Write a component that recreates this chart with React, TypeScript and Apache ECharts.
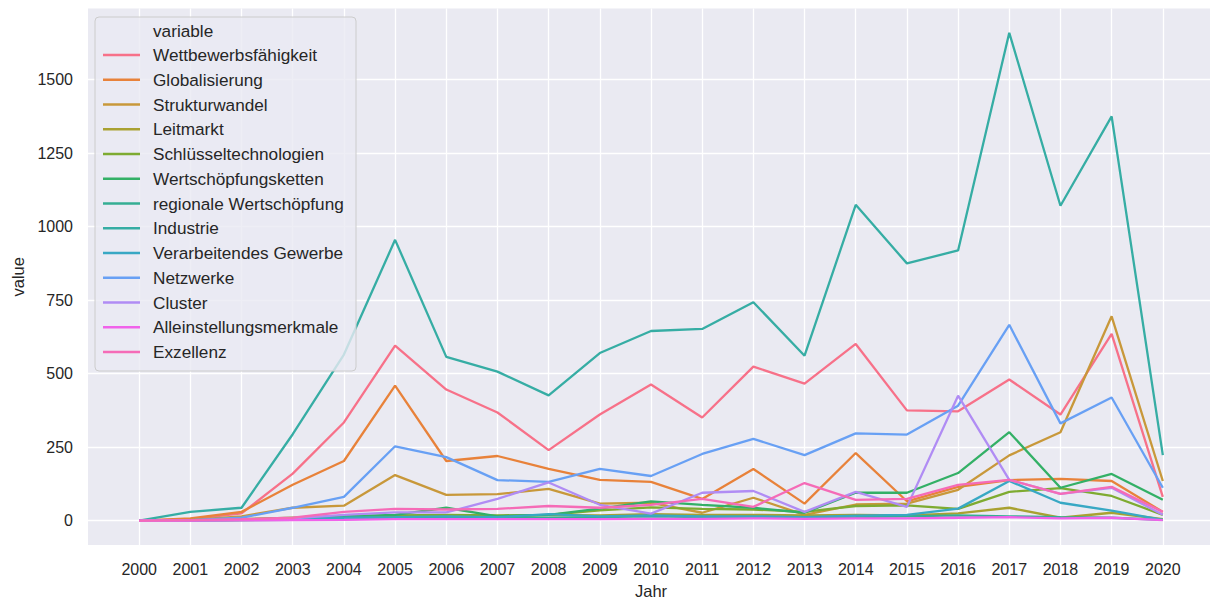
import React, { useEffect, useRef } from "react";
import * as echarts from "echarts";

const years = [2000, 2001, 2002, 2003, 2004, 2005, 2006, 2007, 2008, 2009, 2010, 2011, 2012, 2013, 2014, 2015, 2016, 2017, 2018, 2019, 2020];
const yTicks = [0, 250, 500, 750, 1000, 1250, 1500];

const seriesNames = [
  "Wettbewerbsfähigkeit",
  "Globalisierung",
  "Strukturwandel",
  "Leitmarkt",
  "Schlüsseltechnologien",
  "Wertschöpfungsketten",
  "regionale Wertschöpfung",
  "Industrie",
  "Verarbeitendes Gewerbe",
  "Netzwerke",
  "Cluster",
  "Alleinstellungsmerkmale",
  "Exzellenz",
];

const colors = [
  "#f77189", "#e8823a", "#c8983a", "#a9a131", "#7eab31", "#33b066", "#35ae93",
  "#36ada4", "#38a8c4", "#68a0f4", "#b08cf4", "#f062ea", "#f56bb7",
];

const wettbewerb = [0, 5, 25, 160, 334, 595, 446, 368, 240, 361, 463, 351, 524, 466, 601, 375, 372, 480, 361, 635, 81];
const globalisierung = [0, 8, 30, 122, 203, 459, 203, 220, 176, 139, 132, 74, 176, 58, 230, 66, 115, 138, 142, 135, 30];
const strukturwandel = [0, 3, 15, 44, 51, 155, 88, 90, 108, 58, 61, 27, 78, 20, 55, 58, 105, 222, 301, 695, 135];
const leitmarkt = [0, 2, 5, 8, 12, 15, 18, 15, 20, 18, 22, 20, 20, 18, 20, 18, 25, 44, 10, 27, 5];
const schluessel = [0, 2, 5, 10, 15, 18, 20, 18, 20, 35, 45, 40, 38, 30, 50, 52, 40, 98, 111, 84, 20];
const wsKetten = [0, 0, 2, 5, 15, 20, 44, 15, 20, 41, 66, 54, 44, 27, 95, 95, 162, 301, 112, 159, 71];
const regionaleWS = [0, 1, 2, 3, 5, 8, 10, 8, 10, 12, 15, 12, 10, 10, 12, 15, 18, 15, 12, 10, 3];
const industrie = [0, 30, 44, 294, 565, 955, 557, 507, 426, 570, 645, 652, 743, 561, 1074, 875, 919, 1659, 1071, 1375, 223];
const verarbeitend = [0, 1, 3, 5, 10, 12, 15, 12, 22, 15, 18, 15, 15, 12, 17, 20, 41, 135, 61, 34, 3];
const netzwerke = [0, 2, 10, 44, 81, 253, 216, 138, 132, 176, 152, 227, 278, 223, 297, 293, 391, 666, 331, 419, 112];
const cluster = [0, 1, 3, 8, 20, 28, 28, 74, 130, 54, 24, 95, 101, 30, 98, 47, 425, 139, 91, 112, 20];
const alleinstellung = [0, 0, 1, 2, 3, 5, 5, 5, 5, 5, 6, 6, 8, 6, 8, 8, 10, 12, 8, 10, 2];
const exzellenz = [0, 2, 5, 10, 30, 40, 38, 40, 50, 44, 54, 74, 47, 128, 71, 74, 122, 139, 91, 115, 30];

const seriesValues = [
  wettbewerb, globalisierung, strukturwandel, leitmarkt, schluessel, wsKetten,
  regionaleWS, industrie, verarbeitend, netzwerke, cluster, alleinstellung, exzellenz,
];

const FONT = "'Liberation Sans', Arial, sans-serif";
const TEXT = "#262626";

export default function App() {
  const ref = useRef<HTMLDivElement>(null);

  useEffect(() => {
    if (!ref.current) return;
    const chart = echarts.init(ref.current, undefined, { renderer: "svg" });
    const series = seriesNames.map((name, i) => ({
      name,
      type: "line",
      data: years.map((y, j) => [y, seriesValues[i][j]]),
      showSymbol: false,
      symbol: "none",
      lineStyle: { width: 2.3, color: colors[i] },
      itemStyle: { color: colors[i] },
      z: 2,
    }));
    chart.setOption({
      animation: false,
      backgroundColor: "#ffffff",
      textStyle: { fontFamily: FONT },
      grid: { left: 88, right: 0, top: 8.4, bottom: 55.4, show: true, backgroundColor: "#eaeaf2", borderWidth: 0 },
      xAxis: {
        type: "value",
        min: 1999,
        max: 2021,
        name: "Jahr",
        nameLocation: "middle",
        nameGap: 35,
        nameTextStyle: { color: TEXT, fontSize: 16.5, fontFamily: FONT },
        axisLine: { show: false },
        axisTick: { show: false, customValues: years },
        axisLabel: {
          customValues: years,
          color: TEXT,
          fontSize: 16,
          margin: 16,
          fontFamily: FONT,
          formatter: (v: number) => String(v),
        },
        splitLine: { show: true, lineStyle: { color: "#ffffff", width: 1.3 } },
      },
      yAxis: {
        type: "value",
        min: -83,
        max: 1742,
        name: "value",
        nameLocation: "middle",
        nameGap: 61,
        nameTextStyle: { color: TEXT, fontSize: 16.5, fontFamily: FONT },
        axisLine: { show: false },
        axisTick: { show: false, customValues: yTicks },
        axisLabel: {
          customValues: yTicks,
          color: TEXT,
          fontSize: 16,
          margin: 15,
          fontFamily: FONT,
          formatter: (v: number) => String(v),
        },
        splitLine: { show: true, lineStyle: { color: "#ffffff", width: 1.3 } },
      },
      legend: {
        orient: "vertical",
        left: 103,
        top: 46,
        padding: 0,
        itemGap: 6.75,
        itemWidth: 37,
        itemHeight: 2.3,
        icon: "rect",
        data: seriesNames,
        textStyle: { color: TEXT, fontSize: 17.2, lineHeight: 18, fontFamily: FONT, padding: [0, 0, 0, 8] },
        z: 5,
      },
      graphic: [
        {
          type: "rect",
          z: 4,
          shape: { x: 95, y: 17, width: 261, height: 354, r: 4 },
          style: { fill: "rgba(234,234,242,0.8)", stroke: "#cccccc", lineWidth: 1 },
        },
        {
          type: "text",
          z: 5,
          x: 153,
          y: 31,
          style: { text: "variable", fill: TEXT, font: `17.2px ${FONT}`, textVerticalAlign: "middle" },
        },
      ],
      series,
    });
    return () => chart.dispose();
  }, []);

  return (
    <div style={{ position: "absolute", left: 0, top: 0, width: 1210, height: 604, overflow: "hidden" }}>
      <div ref={ref} style={{ width: 1214, height: 604 }} />
    </div>
  );
}
